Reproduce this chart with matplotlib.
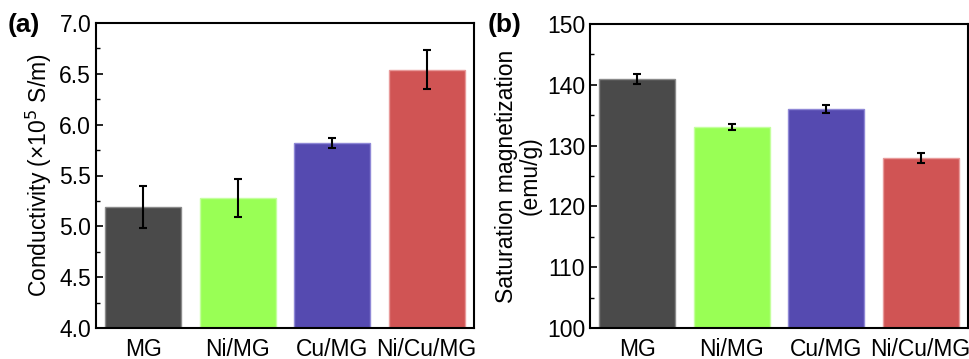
import matplotlib
matplotlib.use("Agg")
import matplotlib.pyplot as plt
from matplotlib.ticker import MultipleLocator

plt.rcParams['font.family'] = ['Liberation Sans', 'DejaVu Sans']

categories = ["MG", "Ni/MG", "Cu/MG", "Ni/Cu/MG"]
conductivity = [5.19, 5.28, 5.82, 6.54]
conductivity_err = [0.205, 0.19, 0.045, 0.19]
magnetization = [141.0, 133.0, 136.0, 128.0]
magnetization_err = [0.8, 0.5, 0.7, 0.8]
colors = ["#4a4a4a", "#99ff55", "#554ab0", "#d05454"]
edge_colors = ["#8a8a8a", "#c4ff9e", "#8f88d6", "#e89a9a"]

W, H = 970, 359
fig = plt.figure(figsize=(W / 100, H / 100), dpi=100)

def make_ax(left, right, top, bottom):
    return fig.add_axes([left / W, 1 - bottom / H, (right - left) / W, (bottom - top) / H])

ax1 = make_ax(96, 474, 23, 328)
ax2 = make_ax(590, 968, 24, 328)

FS = 16.5

def style(ax, vals, errs, ylim, major, minor, ylabel):
    x = range(len(categories))
    ax.bar(x, [v - ylim[0] for v in vals], bottom=ylim[0], width=0.8, color=colors,
           edgecolor=edge_colors, linewidth=1.0, zorder=2)
    ax.errorbar(x, vals, yerr=errs, fmt='none', ecolor='black', elinewidth=1.5,
                capsize=2.8, capthick=1.5, zorder=3)
    ax.set_xlim(-0.5, 3.5)
    ax.set_ylim(*ylim)
    ax.set_xticks(list(x))
    ax.set_xticklabels(categories, fontsize=FS)
    ax.yaxis.set_major_locator(MultipleLocator(major))
    ax.yaxis.set_minor_locator(MultipleLocator(minor))
    ax.tick_params(axis='y', which='major', direction='in', length=5, width=1.2, labelsize=FS)
    ax.tick_params(axis='y', which='minor', direction='in', length=3, width=1.0)
    ax.tick_params(axis='x', length=0, pad=7)
    for s in ax.spines.values():
        s.set_linewidth(1.5)
    ax.set_ylabel(ylabel, fontsize=FS, labelpad=4)

style(ax1, conductivity, conductivity_err, (4.0, 7.0), 0.5, 0.25,
      "Conductivity (×10$^{5}$ S/m)")
ax1.yaxis.set_major_formatter(matplotlib.ticker.FormatStrFormatter('%.1f'))
style(ax2, magnetization, magnetization_err, (100, 150), 10, 5,
      "Saturation magnetization\n(emu/g)")
ax2.yaxis.label.set_linespacing(1.0)

fig.text(8 / W, 1 - 25 / H, "(a)", fontsize=19, fontweight='bold', va='center', ha='left')
fig.text(488 / W, 1 - 25 / H, "(b)", fontsize=19, fontweight='bold', va='center', ha='left')

fig.savefig("out.png", dpi=100)
